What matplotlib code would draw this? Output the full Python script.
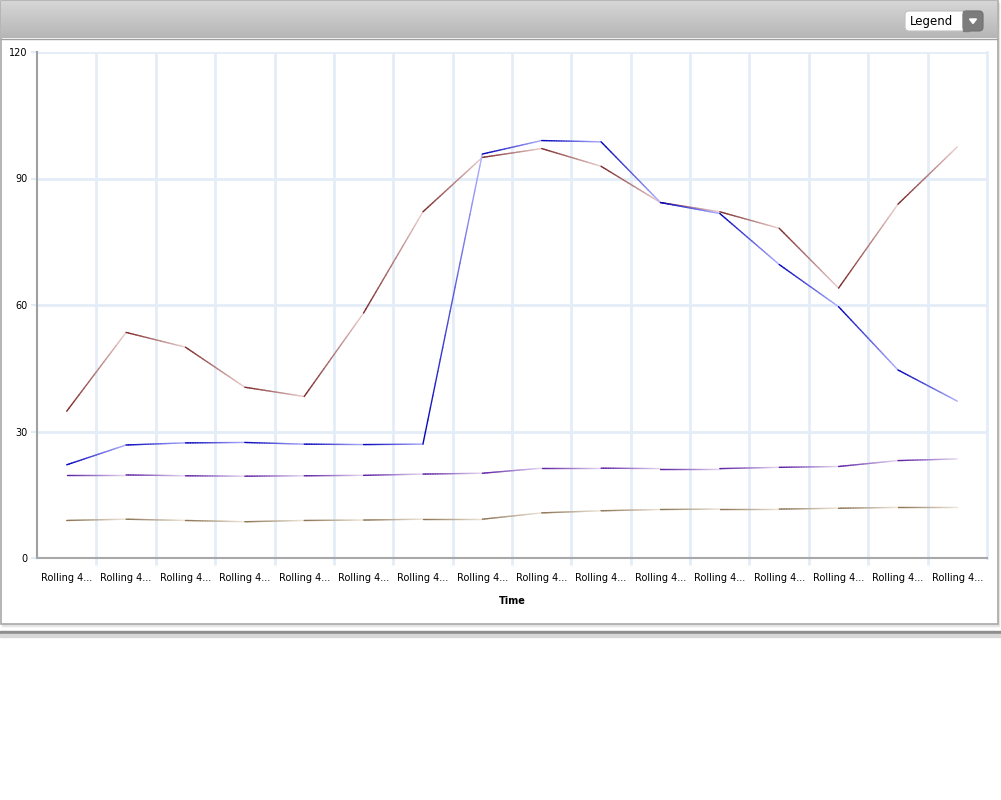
import numpy as np
import matplotlib.pyplot as plt
from matplotlib.collections import LineCollection
from matplotlib.colors import to_rgb, LinearSegmentedColormap
from matplotlib.patches import Rectangle, FancyBboxPatch, Polygon

plt.rcParams['font.family'] = 'DejaVu Sans'

# данные
time_labels = ['Rolling 4...'] * 16
brown_vals = [34.8, 53.5, 50.0, 40.5, 38.3, 58.1, 82.1, 95.0, 97.1, 92.9,
              84.3, 82.1, 78.2, 64.0, 83.9, 97.5]
blue_vals = [22.1, 26.8, 27.3, 27.4, 27.0, 26.9, 27.0, 95.8, 99.0, 98.7,
             84.3, 81.7, 69.6, 59.6, 44.6, 37.2]
purple_vals = [19.7, 19.7, 19.5, 19.4, 19.5, 19.6, 19.9, 20.1, 21.3, 21.3,
               21.2, 21.2, 21.5, 21.7, 23.1, 23.5]
tan_vals = [8.9, 9.2, 8.9, 8.6, 8.9, 9.0, 9.2, 9.2, 10.7, 11.2,
            11.5, 11.6, 11.6, 11.8, 12.0, 12.0]

series = [
    (tan_vals, '#8a7050', '#efe8dc'),
    (purple_vals, '#5a1aa0', '#e6dcf4'),
    (brown_vals, '#7a2626', '#ecd0d0'),
    (blue_vals, '#0000b8', '#b0b0ff'),
]

grid_col = '#e3ecf7'


def gradient_line(ax, xs, ys, dark, light, steps=24):
    # каждый отрезок: от тёмного к светлому
    d = np.array(to_rgb(dark))
    l = np.array(to_rgb(light))
    segs, cols = [], []
    t = np.linspace(0, 1, steps + 1)
    for i in range(len(xs) - 1):
        px = xs[i] + (xs[i + 1] - xs[i]) * t
        py = ys[i] + (ys[i + 1] - ys[i]) * t
        for k in range(steps):
            segs.append([(px[k], py[k]), (px[k + 1], py[k + 1])])
            cols.append(d + (l - d) * (t[k] + t[k + 1]) / 2)
    ax.add_collection(LineCollection(segs, colors=cols, linewidths=1.0,
                                     capstyle='round', zorder=3))


fig = plt.figure(figsize=(10.01, 8), dpi=100)

# фон: панель, шапка, разделитель
bg = fig.add_axes([0, 0, 1, 1], zorder=-1)
bg.set_xlim(0, 1001)
bg.set_ylim(800, 0)
bg.axis('off')
bg.add_patch(Rectangle((2, 3), 997, 623, color='#e4e4e4', zorder=0))
bg.add_patch(Rectangle((0.5, 0.5), 997, 623, facecolor='white',
                       edgecolor='#a8a8a8', lw=1.2, zorder=1))
hdr_cmap = LinearSegmentedColormap.from_list('hdr', ['#d6d6d6', '#b6b6b6'])
bg.imshow(np.linspace(0, 1, 50).reshape(-1, 1), cmap=hdr_cmap, aspect='auto',
          extent=(1, 997, 38, 1), zorder=2)
bg.plot([1, 997], [38.5, 38.5], color='#a0a0a0', lw=1, zorder=3)
bg.add_patch(Rectangle((0, 631), 1001, 3, color='#8e8e8e', zorder=1))
bg.add_patch(Rectangle((0, 634), 1001, 3, color='#d8d8d8', zorder=1))

# кнопка Legend
bg.add_patch(FancyBboxPatch((905, 11), 78, 20, boxstyle='round,pad=0,rounding_size=4',
                            facecolor='white', edgecolor='#c0c0c0', lw=0.8, zorder=4))
bg.add_patch(FancyBboxPatch((963, 11), 20, 20, boxstyle='round,pad=0,rounding_size=4',
                            facecolor='#7c7c7c', edgecolor='#707070', lw=0.8, zorder=5))
bg.add_patch(Rectangle((963, 11), 6, 20, color='#7c7c7c', zorder=5))
bg.add_patch(Polygon([(969.5, 19), (976.5, 19), (973, 23.5)], closed=True,
                     color='white', zorder=6))
bg.text(910, 21, 'Legend', fontsize=8.5, va='center', ha='left', zorder=6)

# область графика
ax = fig.add_axes([37 / 1001, 242 / 800, 950 / 1001, 506 / 800])
x = np.arange(len(time_labels))
for vals, dark, light in series:
    gradient_line(ax, x, vals, dark, light)

ax.set_xlim(-0.5, len(time_labels) - 0.5)
ax.set_ylim(0, 120)
ax.set_yticks([0, 30, 60, 90, 120])
ax.set_xticks(x)
ax.set_xticklabels(time_labels, fontsize=7)
ax.set_xticks(np.arange(0.5, len(time_labels) - 1, 1), minor=True)
ax.tick_params(axis='x', which='major', length=0, pad=11)
ax.tick_params(axis='x', which='minor', length=5, width=2, color=grid_col)
ax.tick_params(axis='y', which='major', length=4, width=1.5, color=grid_col,
               labelsize=7, pad=3)
ax.grid(True, which='minor', axis='x', color=grid_col, lw=2, zorder=0)
ax.grid(True, which='major', axis='y', color=grid_col, lw=2, zorder=0)
ax.set_axisbelow(True)

ax.spines['top'].set_visible(False)
ax.spines['right'].set_color(grid_col)
ax.spines['right'].set_linewidth(2)
ax.spines['left'].set_color('#a0a0a0')
ax.spines['bottom'].set_color('#a8a8a8')
ax.spines['left'].set_linewidth(1.5)
ax.spines['bottom'].set_linewidth(1.5)

ax.set_xlabel('Time', fontsize=7, fontweight='bold', labelpad=9)

fig.savefig('out.png', dpi=100)
